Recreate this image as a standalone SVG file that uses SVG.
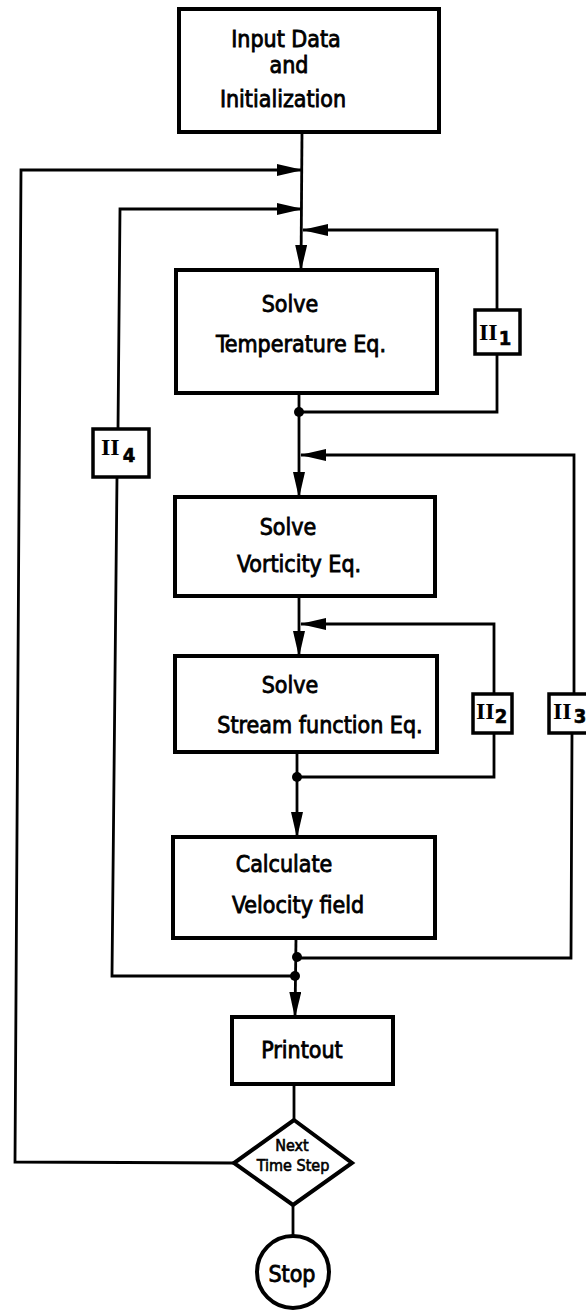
<svg xmlns="http://www.w3.org/2000/svg" width="586" height="1310" viewBox="0 0 586 1310">
<style>
.box{fill:#fff;stroke:#000;stroke-width:4}
.lab{fill:#fff;stroke:#000;stroke-width:3.5}
.ln{fill:none;stroke:#000;stroke-width:2.8}
.t{font-family:"DejaVu Sans Condensed","DejaVu Sans",sans-serif;font-size:23px;fill:#000;stroke:#000;stroke-width:0.8;text-anchor:middle}
.ts{font-size:16px;stroke-width:0.6}
.r{font-family:"Liberation Serif","DejaVu Serif",serif;font-weight:bold;font-size:24px;fill:#000}
.sub{font-family:"DejaVu Sans Condensed","DejaVu Sans",sans-serif;font-size:20px;fill:#000;stroke:#000;stroke-width:0.6}
.dot{fill:#000}
</style>
<defs>
<marker id="ah" markerUnits="userSpaceOnUse" markerWidth="26" markerHeight="12" refX="25" refY="6" orient="auto">
<path d="M0,0 L26,6 L0,12 Z" fill="#000"/>
</marker>
</defs>
<g id="connectors">
<path class="ln" d="M302,132 L301,270" marker-end="url(#ah)"/>
<path class="ln" d="M299,393 L299,497" marker-end="url(#ah)"/>
<path class="ln" d="M299,596 L299,656" marker-end="url(#ah)"/>
<path class="ln" d="M297,752 L297,837" marker-end="url(#ah)"/>
<path class="ln" d="M296,938 L295,1017" marker-end="url(#ah)"/>
<path class="ln" d="M294,1084 L294,1120"/>
<path class="ln" d="M293,1205 L293,1236"/>
<path class="ln" d="M234,1163 L15,1162 L21,170 L302,170" marker-end="url(#ah)"/>
<path class="ln" d="M295,976 L112,976 L117,477"/>
<path class="ln" d="M118,429 L120,209 L302,209" marker-end="url(#ah)"/>
<path class="ln" d="M299,412 L497,412 L497,354"/>
<path class="ln" d="M497,310 L497,230 L303,230" marker-end="url(#ah)"/>
<path class="ln" d="M297,958 L571,958 L572,733"/>
<path class="ln" d="M574,694 L574,455 L301,455" marker-end="url(#ah)"/>
<path class="ln" d="M297,777 L494,777 L494,733"/>
<path class="ln" d="M494,694 L494,624 L301,624" marker-end="url(#ah)"/>
<circle class="dot" cx="299" cy="412" r="5"/>
<circle class="dot" cx="297" cy="777" r="5"/>
<circle class="dot" cx="297" cy="957" r="5"/>
<circle class="dot" cx="295" cy="976" r="5"/>
</g>
<g id="input">
<rect class="box" x="179" y="9" width="260" height="123"/>
<text class="t" x="286" y="47">Input  Data</text>
<text class="t" x="289" y="73">and</text>
<text class="t" x="283" y="107">Initialization</text>
</g>
<g id="temperature">
<rect class="box" x="176" y="270" width="261" height="123"/>
<text class="t" x="290" y="312">Solve</text>
<text class="t" x="301" y="352">Temperature Eq.</text>
</g>
<g id="vorticity">
<rect class="box" x="175" y="497" width="260" height="99"/>
<text class="t" x="288" y="535">Solve</text>
<text class="t" x="299" y="572">Vorticity Eq.</text>
</g>
<g id="stream">
<rect class="box" x="175" y="656" width="262" height="96"/>
<text class="t" x="290" y="693">Solve</text>
<text class="t" x="320" y="733">Stream function Eq.</text>
</g>
<g id="velocity">
<rect class="box" x="173" y="837" width="262" height="101"/>
<text class="t" x="284" y="872">Calculate</text>
<text class="t" x="298" y="913">Velocity field</text>
</g>
<g id="printout">
<rect class="box" x="232" y="1017" width="161" height="67"/>
<text class="t" x="302" y="1058">Printout</text>
</g>
<g id="next">
<path class="box" d="M294,1120 L352,1163 L293,1205 L234,1163 Z"/>
<text class="t ts" x="292" y="1151">Next</text>
<text class="t ts" x="293" y="1171">Time Step</text>
</g>
<g id="stop">
<circle class="box" cx="293" cy="1272" r="36"/>
<text class="t" x="292" y="1282">Stop</text>
</g>
<g id="II1">
<rect class="lab" x="475" y="310" width="45" height="44"/>
<text class="r" x="479" y="340">II<tspan class="sub" dx="1" dy="5">1</tspan></text>
</g>
<g id="II2">
<rect class="lab" x="473" y="694" width="39" height="39"/>
<text class="r" x="476" y="719">II<tspan class="sub" dy="4">2</tspan></text>
</g>
<g id="II3">
<rect class="lab" x="549" y="694" width="45" height="39"/>
<text class="r" x="553" y="719">II<tspan class="sub" dx="2" dy="4">3</tspan></text>
</g>
<g id="II4">
<rect class="lab" x="93" y="429" width="56" height="48"/>
<text class="r" x="101" y="455">II<tspan class="sub" dx="3" dy="7">4</tspan></text>
</g>
</svg>
